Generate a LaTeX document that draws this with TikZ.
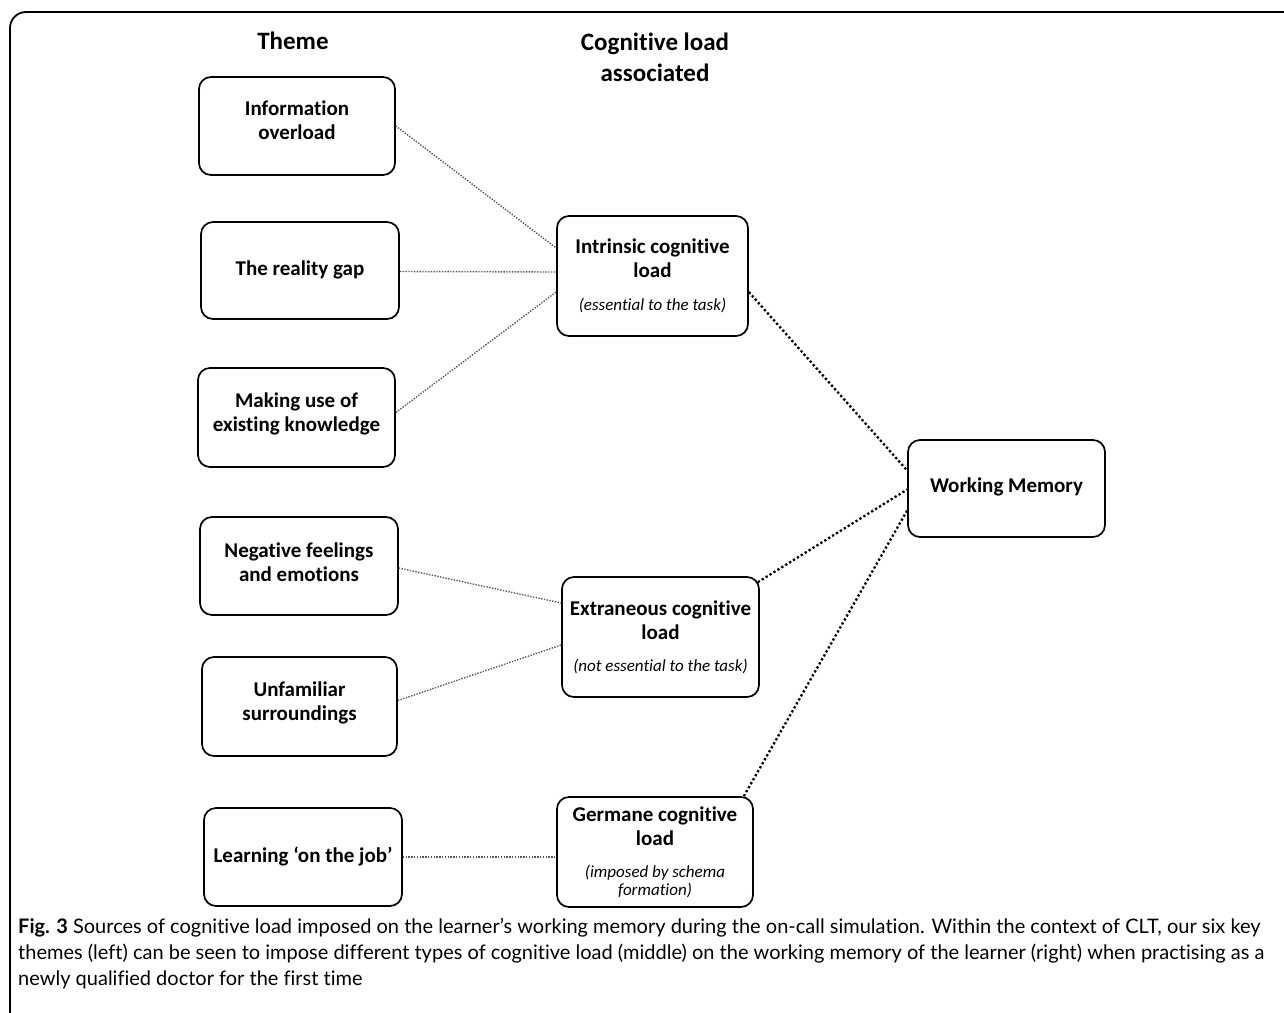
\documentclass[tikz,border=0pt]{standalone}
\usepackage{fontspec}
\setmainfont{Carlito}[Ligatures={TeX,NoCommon,NoContextual,NoRare}]
\newfontfamily\capfont{Lato}[Ligatures={TeX,NoCommon,NoContextual,NoRare}]
\usetikzlibrary{calc}
\newcommand{\subtxt}[1]{{\mdseries\itshape\fontsize{17}{18}\selectfont #1}}
\begin{document}
\begin{tikzpicture}[x=1pt,y=-1pt,
  box/.style={draw, line width=1.7pt, rounded corners=12pt, align=center,
    font=\bfseries\fontsize{21}{24}\selectfont, minimum width=196pt,
    minimum height=98pt, inner sep=0pt},
  head/.style={font=\bfseries\fontsize{25}{31}\selectfont, align=center},
  thinlink/.style={line width=1.4pt, dash pattern=on 1.4pt off 1.4pt, black!65},
  thicklink/.style={line width=2.3pt, dash pattern=on 2.3pt off 2.3pt, black}]
\useasboundingbox (0,0) rectangle (1284,1012);
\clip (0,0) rectangle (1284,1012);
\draw[line width=1.8pt, rounded corners=16pt] (10,12) rectangle (1330,1060);

\node[head] (h1) at (293,41) {Theme};
\node[head] (h2) at (655,57) {Cognitive load\\associated};

\node[box] (info) at (297,126) {Information\\overload\\[-12pt]};
\node[box, minimum width=198pt, minimum height=97pt] (real) at (300,270.5) {The reality gap\\[-19pt]};
\node[box, minimum width=197pt, minimum height=99pt] (make) at (296.5,417.5) {Making use of\\existing knowledge\\[-13pt]};
\node[box, minimum width=198pt] (neg) at (299,566) {Negative feelings\\and emotions\\[-16pt]};
\node[box, minimum width=195pt, minimum height=99pt] (unf) at (299.5,706.5) {Unfamiliar\\surroundings\\[-13pt]};
\node[box, minimum width=198pt] (learn) at (303,857) {Learning ‘on the job’\\[-20pt]};

\node[box, minimum width=191pt, minimum height=120pt] (intr) at (652.5,276)
  {Intrinsic cognitive\\load\\[9pt]\subtxt{(essential to the task)}};
\node[box, minimum width=197pt, minimum height=120pt] (extr) at (660.5,637)
  {Extraneous cognitive\\load\\[8pt]\subtxt{(not essential to the task)}};
\node[box, minimum width=196pt, minimum height=110pt] (germ) at (655,852)
  {Germane cognitive\\load\\[8pt]\subtxt{(imposed by schema}\\[-6pt]\subtxt{formation)}};

\node[box, minimum width=197pt, minimum height=97pt] (wm) at (1006.5,488.5) {Working Memory\\[-17pt]};

% theme -> load
\draw[thinlink] (info.east) -- ([yshift=28pt]intr.west);
\draw[thinlink] ([yshift=-1pt]real.east) -- ([yshift=4pt]intr.west);
\draw[thinlink] ([yshift=5pt]make.east) -- ([yshift=-16pt]intr.west);
\draw[thinlink] ([yshift=-2pt]neg.east) -- ([yshift=34pt]extr.west);
\draw[thinlink] ([yshift=6pt]unf.east) -- ([yshift=-8pt]extr.west);
\draw[thinlink] (learn.east) -- (learn.east -| germ.west);

% load -> working memory
\draw[thicklink] ([yshift=-16pt]intr.east) -- ([yshift=18pt]wm.west);
\draw[thicklink] ([xshift=-2pt,yshift=-6pt]extr.north east) -- ([yshift=-1pt]wm.west);
\draw[thicklink] ([xshift=-10pt]germ.north east) -- ([yshift=-22pt]wm.west);

\node[anchor=north west, align=left, inner sep=0pt,
  font=\capfont\fontsize{20}{26}\selectfont] (cap) at (18,918)
  {{\bfseries Fig. 3} Sources of cognitive load imposed on the learner’s working memory during the on-call simulation. Within the context of CLT, our six key\\
   themes (left) can be seen to impose different types of cognitive load (middle) on the working memory of the learner (right) when practising as a\\
   newly qualified doctor for the first time};
\end{tikzpicture}
\end{document}
